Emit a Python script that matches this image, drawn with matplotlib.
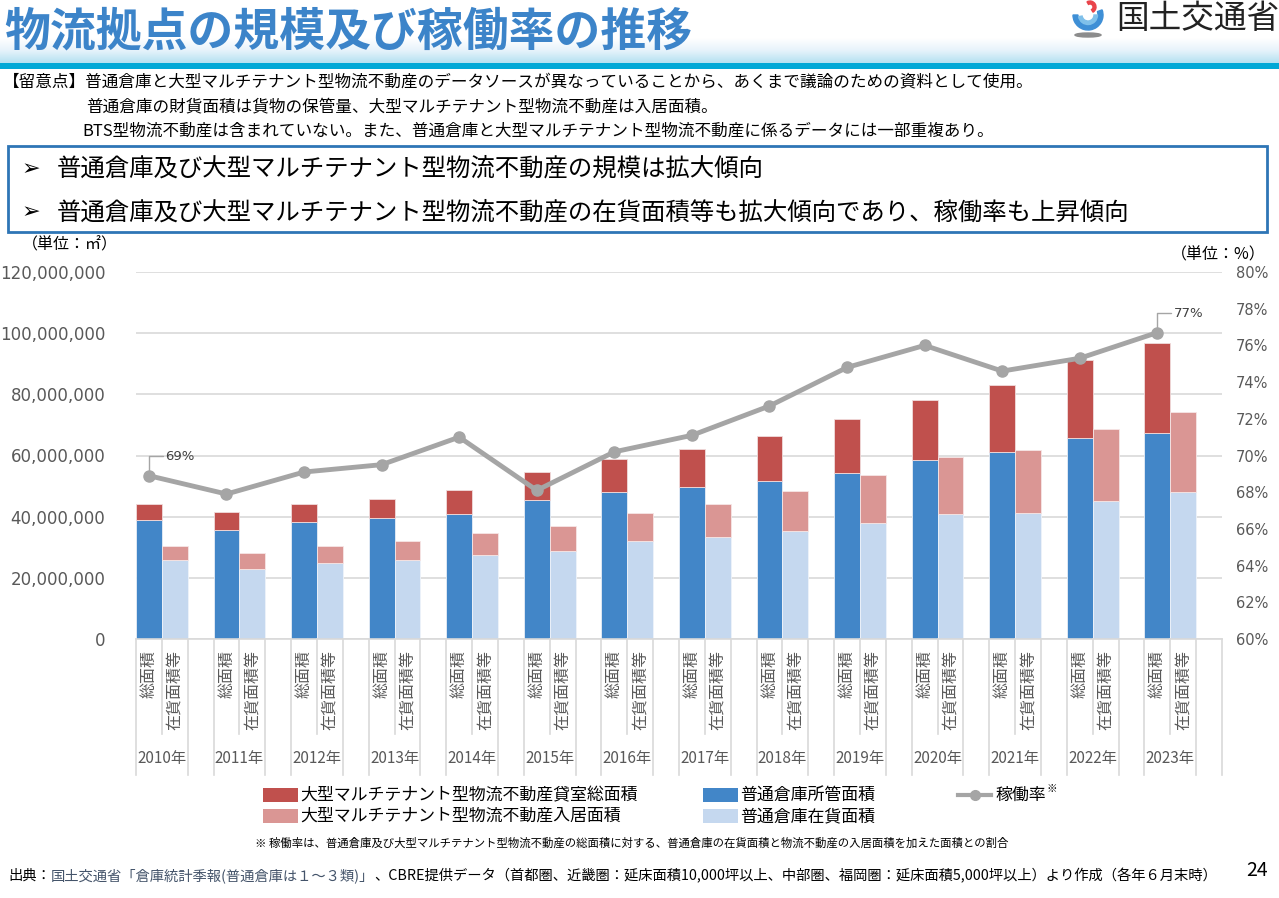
import matplotlib
matplotlib.use("Agg")
import matplotlib.pyplot as plt
from matplotlib.patches import Rectangle, Ellipse, Wedge
from matplotlib.lines import Line2D
import numpy as np

plt.rcParams['font.family'] = ['Noto Sans CJK JP', 'DejaVu Sans']

# data
years = ['2010年', '2011年', '2012年', '2013年', '2014年', '2015年', '2016年',
         '2017年', '2018年', '2019年', '2020年', '2021年', '2022年', '2023年']
cat_labels = ['総面積', '在貨面積等']
# 普通倉庫所管面積 / 大型マルチテナント型物流不動産 貸室総面積 (totals, m2)
warehouse_total = [38.9, 35.7, 38.3, 39.5, 40.9, 45.6, 48.1, 49.7, 51.6, 54.3, 58.4, 61.0, 65.8, 67.4]
total_area = [44.1, 41.4, 44.1, 45.9, 48.8, 54.6, 58.8, 62.2, 66.5, 71.8, 78.3, 83.0, 91.2, 96.9]
# 普通倉庫在貨面積 / 大型マルチテナント型物流不動産入居面積 (cumulative top)
warehouse_stock = [25.8, 22.8, 24.9, 25.8, 27.5, 28.9, 31.9, 33.4, 35.3, 37.8, 40.8, 41.3, 45.2, 48.1]
stock_total = [30.4, 28.0, 30.5, 31.9, 34.6, 37.1, 41.3, 44.2, 48.3, 53.6, 59.5, 61.8, 68.8, 74.2]
occupancy = [68.9, 67.9, 69.1, 69.5, 71.0, 68.1, 70.2, 71.1, 72.7, 74.8, 76.0, 74.6, 75.3, 76.7]

warehouse_total = np.array(warehouse_total) * 1e6
total_area = np.array(total_area) * 1e6
warehouse_stock = np.array(warehouse_stock) * 1e6
stock_total = np.array(stock_total) * 1e6

C_RED = '#c0504d'
C_BLUE = '#4286c8'
C_PINK = '#da9694'
C_LIGHT = '#c5d8ef'
C_LINE = '#a5a5a5'
C_TXT = '#595959'
C_GRID = '#d9d9d9'

W, H = 1279, 898
fig = plt.figure(figsize=(W / 100, H / 100), dpi=100)


def fx(x):
    return x / W


def fy(y):
    return 1 - y / H


# ---- header ----
band = np.linspace(0, 1, 50).reshape(-1, 1)
hdr = fig.add_axes([0, fy(63), 1, (63 - 38) / H])
hdr.imshow(band, aspect='auto', cmap=matplotlib.colors.LinearSegmentedColormap.from_list(
    'b', ['#ffffff', '#e6f3fb', '#b5e1f1']), extent=[0, 1, 0, 1], origin='upper')
hdr.axis('off')
fig.add_artist(Rectangle((0, fy(69)), 1, 6 / H, transform=fig.transFigure,
                         color='#00a8d6', lw=0))
fig.text(fx(4), fy(32), '物流拠点の規模及び稼働率の推移', fontsize=33, fontweight='bold',
         color='#3c84c9', va='center', ha='left')

# logo
lg = fig.add_axes([fx(1066), fy(40), 45 / W, 40 / H])
lg.set_xlim(0, 45)
lg.set_ylim(0, 40)
lg.axis('off')
lg.add_patch(Ellipse((22, 5), 26, 4, color='#8c8c8c'))
lg.add_patch(Wedge((22, 25), 15, 180, 20, width=5, color='#3e8fd6'))
lg.add_patch(Wedge((22, 25), 9.5, 190, 360, width=3.5, color='#7fc0ea'))
lg.add_patch(Wedge((24, 33), 6, 300, 120, width=3, color='#e9444a'))
fig.text(fx(1116), fy(19), '国土交通省', fontsize=23.5, color='#222222', va='center', ha='left')

# notes
fig.text(fx(3), fy(82), '【留意点】普通倉庫と大型マルチテナント型物流不動産のデータソースが異なっていることから、あくまで議論のための資料として使用。',
         fontsize=11.95, va='center', ha='left', color='#000000')
fig.text(fx(86), fy(107), '普通倉庫の財貨面積は貨物の保管量、大型マルチテナント型物流不動産は入居面積。',
         fontsize=11.95, va='center', ha='left', color='#000000')
fig.text(fx(82), fy(131), 'BTS型物流不動産は含まれていない。また、普通倉庫と大型マルチテナント型物流不動産に係るデータには一部重複あり。',
         fontsize=11.95, va='center', ha='left', color='#000000')

fig.add_artist(Rectangle((fx(8), fy(232)), (1267 - 8) / W, (232 - 146) / H,
                         transform=fig.transFigure, fill=False, ec='#2e75b6', lw=2))
for yy, txt in [(169, '普通倉庫及び大型マルチテナント型物流不動産の規模は拡大傾向'),
                (212, '普通倉庫及び大型マルチテナント型物流不動産の在貨面積等も拡大傾向であり、稼働率も上昇傾向')]:
    fig.text(fx(22), fy(yy), '➢', fontsize=16, family='DejaVu Sans', va='center', ha='left',
             fontweight='bold')
    fig.text(fx(57), fy(yy), txt, fontsize=17.6, va='center', ha='left', color='#000000')

# ---- chart ----
ax = fig.add_axes([fx(136), fy(639), (1222 - 136) / W, (639 - 272) / H])
pos_total = np.arange(len(years)) * 3
pos_stock = pos_total + 1

ax.bar(pos_total, warehouse_total, width=1, color=C_BLUE, ec='#e8eef6', lw=0.6, zorder=2)
ax.bar(pos_total, total_area - warehouse_total, bottom=warehouse_total, width=1,
       color=C_RED, ec='#f0dcdc', lw=0.6, zorder=2)
ax.bar(pos_stock, warehouse_stock, width=1, color=C_LIGHT, ec='#eef3fa', lw=0.6, zorder=2)
ax.bar(pos_stock, stock_total - warehouse_stock, bottom=warehouse_stock, width=1,
       color=C_PINK, ec='#f6e6e6', lw=0.6, zorder=2)

ax.set_xlim(-0.5, len(years) * 3 - 0.5)
ax.set_ylim(0, 120e6)
ax.set_yticks(np.arange(0, 120e6 + 1, 20e6))
ax.set_yticklabels([f'{int(v):,}' for v in np.arange(0, 120e6 + 1, 20e6)],
                   family='DejaVu Sans', fontsize=12, color=C_TXT)
ax.tick_params(axis='y', length=0, pad=22)
ax.set_xticks([])
ax.grid(axis='y', color=C_GRID, lw=1.2, zorder=0)
for s in ['top', 'left', 'right']:
    ax.spines[s].set_visible(False)
ax.spines['bottom'].set_color(C_GRID)
ax.spines['bottom'].set_linewidth(1.2)

ax2 = ax.twinx()
ax2.plot(pos_total, occupancy, color=C_LINE, lw=3.5, marker='o', ms=8, zorder=5)
ax2.set_ylim(60, 80)
ax2.set_yticks(np.arange(60, 81, 2))
ax2.set_yticklabels([f'{v}%' for v in range(60, 81, 2)], family='DejaVu Sans',
                    fontsize=10.5, color=C_TXT)
ax2.tick_params(axis='y', length=0, pad=10)
for s in ax2.spines.values():
    s.set_visible(False)

# data labels with leader lines
for i in (0, len(years) - 1):
    xp, yp = pos_total[i], occupancy[i]
    ax2.annotate(f'{round(occupancy[i])}%', xy=(xp, yp + 0.3), xytext=(12, 10),
                 textcoords='offset points', fontsize=9.5, color='#404040',
                 family='DejaVu Sans', va='center', ha='left',
                 arrowprops=dict(arrowstyle='-', color=C_LINE, lw=1,
                                 connectionstyle='angle,angleA=0,angleB=90,rad=0',
                                 shrinkA=0, shrinkB=0))

# category axis (multi-level)
trans = ax.get_xaxis_transform()
n = len(years)
for k in range(n):
    for j in range(2):
        ax.text(3 * k + j, -0.03, cat_labels[j], transform=trans, rotation=90,
                va='top', ha='center', fontsize=11.5, color=C_TXT)
    ax.text(3 * k + 0.5, -0.325, years[k], transform=trans, va='center', ha='center',
            fontsize=11, color=C_TXT)
    ax.plot([3 * k + 0.5] * 2, [0, -0.26], transform=trans, color=C_GRID, lw=1.2,
            clip_on=False)
    for xb in (3 * k - 0.5, 3 * k + 1.5):
        ax.plot([xb] * 2, [0, -0.37], transform=trans, color=C_GRID, lw=1.2, clip_on=False)
ax.plot([3 * n - 0.5] * 2, [0, -0.37], transform=trans, color=C_GRID, lw=1.2, clip_on=False)

# unit labels
fig.text(fx(22), fy(245), '（単位：㎡）', fontsize=11.5, va='center', ha='left')
fig.text(fx(1266), fy(255), '（単位：%）', fontsize=11.5, va='center', ha='right')

# ---- legend ----
legend_items = [
    (263, 795, C_RED, '大型マルチテナント型物流不動産貸室総面積', 'bar'),
    (263, 816, C_PINK, '大型マルチテナント型物流不動産入居面積', 'bar'),
    (703, 795, C_BLUE, '普通倉庫所管面積', 'bar'),
    (703, 816, C_LIGHT, '普通倉庫在貨面積', 'bar'),
    (958, 795, C_LINE, '稼働率', 'line'),
]
for lx, ly, col, lab, kind in legend_items:
    if kind == 'bar':
        fig.add_artist(Rectangle((fx(lx), fy(ly + 7)), 35 / W, 14 / H,
                                 transform=fig.transFigure, color=col, lw=0))
    else:
        fig.add_artist(Line2D([fx(lx), fx(lx + 33)], [fy(ly)] * 2, transform=fig.transFigure,
                              color=col, lw=3))
        fig.add_artist(Line2D([fx(lx + 16.5)], [fy(ly)], transform=fig.transFigure,
                              color=col, marker='o', ms=7, lw=0))
    fig.text(fx(lx + 37), fy(ly), lab, fontsize=12.2, va='center', ha='left', color='#000000')
fig.text(fx(1047), fy(789), '※', fontsize=7.5, va='center', ha='left')

fig.text(fx(255), fy(843),
         '※ 稼働率は、普通倉庫及び大型マルチテナント型物流不動産の総面積に対する、普通倉庫の在貨面積と物流不動産の入居面積を加えた面積との割合',
         fontsize=8.2, va='center', ha='left', color='#000000')

# footer
fs_foot = 10.3
t1 = fig.text(fx(8), fy(876), '出典：', fontsize=fs_foot, va='center', ha='left', color='#000000')
fig.canvas.draw()
r = fig.canvas.get_renderer()
bb = t1.get_window_extent(r)
t2 = fig.text(bb.x1 / W, fy(876), '国土交通省「倉庫統計季報(普通倉庫は１～３類)」', fontsize=fs_foot,
              va='center', ha='left', color='#44546a')
bb = t2.get_window_extent(r)
fig.text(bb.x1 / W, fy(876),
         '、CBRE提供データ（首都圏、近畿圏：延床面積10,000坪以上、中部圏、福岡圏：延床面積5,000坪以上）より作成（各年６月末時）',
         fontsize=fs_foot, va='center', ha='left', color='#000000')
fig.text(fx(1257), fy(870), '24', fontsize=14, va='center', ha='center', color='#000000')

fig.savefig('out.png', dpi=100)
